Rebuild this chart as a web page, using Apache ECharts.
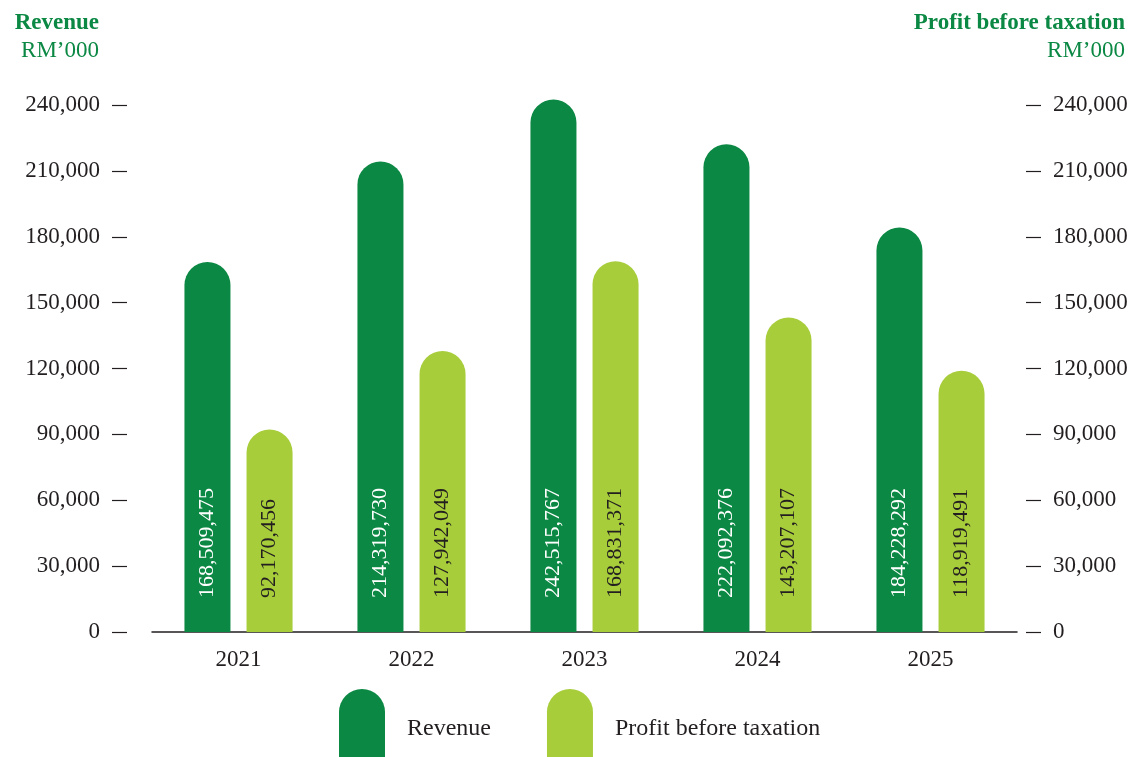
<!DOCTYPE html>
<html>
<head>
<meta charset="utf-8">
<script src="https://cdn.jsdelivr.net/npm/echarts@6/dist/echarts.min.js"></script>
<style>
  html, body { margin: 0; padding: 0; background: #fff; }
  #chart { width: 1133px; height: 757px; }
</style>
</head>
<body>
<div id="chart"></div>
<script>
// RM'000
const years = ['2021', '2022', '2023', '2024', '2025']
const revenue = [168509.475, 214319.730, 242515.767, 222092.376, 184228.292]
const profit = [92170.456, 127942.049, 168831.371, 143207.107, 118919.491]
const axisTicks = [0, 30000, 60000, 90000, 120000, 150000, 180000, 210000, 240000]

const darkGreen = '#0b8843'
const lightGreen = '#a7cd3a'
const ink = '#231f20'
const font = 'Liberation Serif'

const chart = echarts.init(document.getElementById('chart'))

// full number inside the bar
function barLabel (p) {
  return Math.round(p.value * 1000).toLocaleString('en-US')
}

function yAxis (pos, offset) {
  return {
    type: 'value',
    position: pos,
    offset: offset,
    min: axisTicks[0],
    max: axisTicks[axisTicks.length - 1],
    interval: axisTicks[1] - axisTicks[0],
    splitLine: { show: false },
    axisLine: { show: false },
    axisTick: { show: true, length: 15, lineStyle: { color: ink, width: 1.2 } },
    axisLabel: {
      margin: 27,
      color: ink,
      fontFamily: font,
      fontSize: 23,
      formatter: v => v.toLocaleString('en-US')
    }
  }
}

const option = {
  backgroundColor: '#fff',
  title: [
    {
      text: 'Revenue',
      subtext: 'RM’000',
      left: 99,
      top: 12,
      padding: 0,
      textAlign: 'right',
      itemGap: 4,
      textStyle: { color: darkGreen, fontFamily: font, fontWeight: 'bold', fontSize: 23 },
      subtextStyle: { color: darkGreen, fontFamily: font, fontSize: 23 }
    },
    {
      text: 'Profit before taxation',
      subtext: 'RM’000',
      left: 1125,
      top: 12,
      padding: 0,
      textAlign: 'right',
      itemGap: 4,
      textStyle: { color: darkGreen, fontFamily: font, fontWeight: 'bold', fontSize: 23 },
      subtextStyle: { color: darkGreen, fontFamily: font, fontSize: 23 }
    }
  ],
  legend: {
    left: 339,
    top: 689,
    padding: 0,
    itemWidth: 46,
    itemHeight: 70,
    itemGap: 56,
    icon: 'path://M0,23 A23,23 0 0 1 46,23 L46,70 L0,70 Z',
    formatter: name => '{t|' + name + '}',
    textStyle: {
      color: ink,
      fontFamily: font,
      fontSize: 24,
      padding: [0, 0, 0, 17],
      rich: { t: { color: ink, fontFamily: font, fontSize: 24, padding: [10, 0, 0, 0] } }
    },
    data: ['Revenue', 'Profit before taxation']
  },
  grid: { left: 152, right: 116, top: 105, bottom: 125 },
  xAxis: {
    type: 'category',
    data: years,
    axisLine: { lineStyle: { color: ink, width: 1.5 } },
    axisTick: { show: false },
    axisLabel: { margin: 16, color: ink, fontFamily: font, fontSize: 23 }
  },
  yAxis: [yAxis('left', 25), yAxis('right', 9)],
  series: [
    {
      name: 'Revenue',
      type: 'bar',
      yAxisIndex: 0,
      data: revenue,
      barWidth: 46,
      barGap: '35%',
      clip: false,
      itemStyle: { color: darkGreen, borderRadius: [23, 23, 0, 0] },
      label: {
        show: true,
        position: 'insideBottom',
        distance: 34,
        rotate: 90,
        align: 'left',
        verticalAlign: 'middle',
        color: '#fff',
        fontFamily: font,
        fontSize: 22,
        formatter: barLabel
      }
    },
    {
      name: 'Profit before taxation',
      type: 'bar',
      yAxisIndex: 1,
      data: profit,
      barWidth: 46,
      clip: false,
      itemStyle: { color: lightGreen, borderRadius: [23, 23, 0, 0] },
      label: {
        show: true,
        position: 'insideBottom',
        distance: 34,
        rotate: 90,
        align: 'left',
        verticalAlign: 'middle',
        color: ink,
        fontFamily: font,
        fontSize: 22,
        formatter: barLabel
      }
    }
  ]
}

chart.setOption(option)
</script>
</body>
</html>
